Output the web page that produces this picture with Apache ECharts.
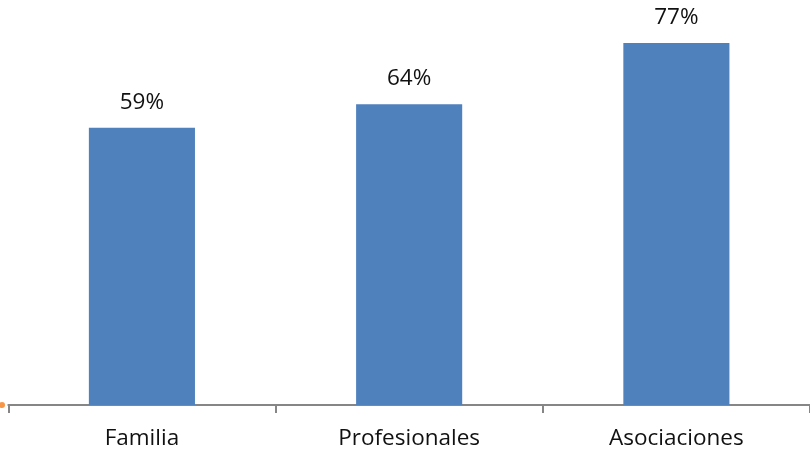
<!DOCTYPE html>
<html><head><meta charset="utf-8">
<script src="https://cdn.jsdelivr.net/npm/echarts@6/dist/echarts.min.js"></script>
<style>html,body{margin:0;padding:0;background:#fff}#c{width:810px;height:460px}</style>
</head><body><div id="c"></div>
<script>
const categories = ['Familia', 'Profesionales', 'Asociaciones'];
const values = [59, 64, 77];

const chart = echarts.init(document.getElementById('c'));
chart.setOption({
  animation: false,
  grid: { left: 8.3, top: 29, width: 805.5, height: 376 },
  xAxis: {
    type: 'category', data: categories,
    axisLine: { lineStyle: { color: '#868686', width: 2 } },
    axisTick: { show: true, length: 8, lineStyle: { color: '#868686', width: 2 } },
    axisLabel: { color: '#111', fontSize: 22.5, fontFamily: 'Open Sans', margin: 22 }
  },
  yAxis: { type: 'value', min: 0, max: 80, show: false, splitLine: { show: false } },
  series: [{
    type: 'bar', data: values, barWidth: '39.7%',
    itemStyle: { color: '#4F81BD' },
    label: { show: true, position: 'top', distance: 14, formatter: '{c}%', color: '#111', fontSize: 22.5, fontFamily: 'Open Sans' }
  }],
  graphic: [{ type: 'circle', shape: { cx: 2, cy: 405, r: 3 }, style: { fill: '#F79646' } }]
});
</script></body></html>
